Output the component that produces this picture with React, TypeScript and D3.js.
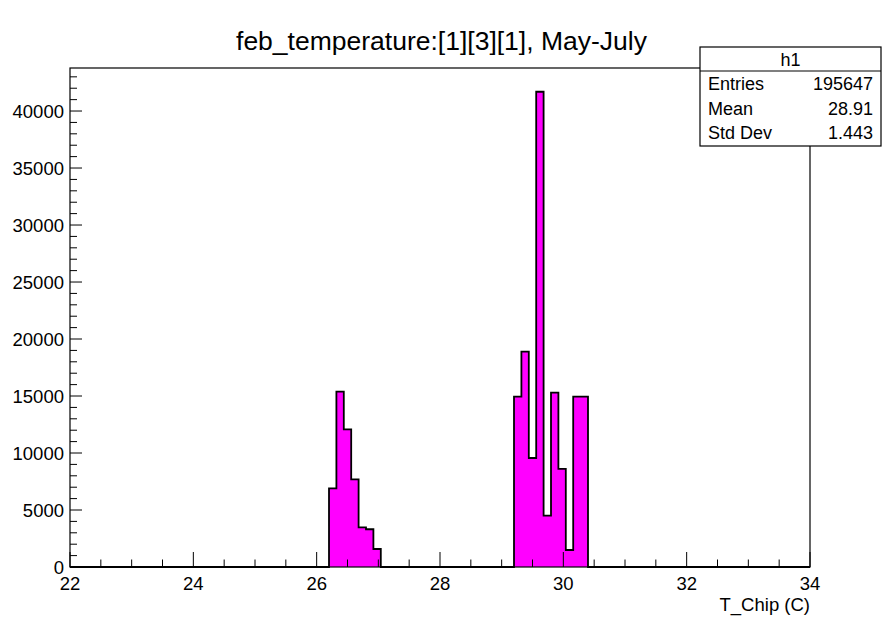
import React from "react";
import * as d3 from "d3";

// Histogram h1: T_Chip temperature, bins of 0.12 C over [22, 34]
const binWidth = 0.12;
const binLow = [
  26.2, 26.32, 26.44, 26.56, 26.68, 26.8, 26.92,
  29.2, 29.32, 29.44, 29.56, 29.68, 29.8, 29.92, 30.04, 30.16, 30.28,
];
const binCount = [
  6900, 15380, 12080, 7690, 3480, 3310, 1580,
  14950, 18890, 9560, 41690, 4510, 15290, 8600, 1490, 14950, 14950,
];
const xDomain = [22, 34];
const xMajorTicks = [22, 24, 26, 28, 30, 32, 34];
const yMajorTicks = [0, 5000, 10000, 15000, 20000, 25000, 30000, 35000, 40000];
const statsLabels = ["Entries", "Mean", "Std Dev"];
const statsValues = ["195647", "28.91", "1.443"];

const W = 883;
const H = 619;
const frame = { left: 70, right: 810, top: 68, bottom: 567 };
const font = "'Liberation Sans', Arial, Helvetica, sans-serif";

export default function App() {
  const x = d3.scaleLinear().domain(xDomain).range([frame.left, frame.right]);
  const yMax = (d3.max(binCount) as number) * 1.05;
  const y = d3.scaleLinear().domain([0, yMax]).range([frame.bottom, frame.top]);

  // Step outline points: each point starts a bin at its height
  const pts: [number, number][] = [[xDomain[0], 0]];
  binLow.forEach((lo, i) => {
    pts.push([lo, binCount[i]]);
    const next = binLow[i + 1];
    const hi = lo + binWidth;
    if (next === undefined || Math.abs(next - hi) > 1e-6) pts.push([hi, 0]);
  });
  pts.push([xDomain[1], 0]);

  const area = d3
    .area<[number, number]>()
    .x((d) => x(d[0]))
    .y0(y(0))
    .y1((d) => y(d[1]))
    .curve(d3.curveStepAfter);
  const line = d3
    .line<[number, number]>()
    .x((d) => x(d[0]))
    .y((d) => y(d[1]))
    .curve(d3.curveStepAfter);

  const xMinor = d3.range(xDomain[0], xDomain[1] + 1e-9, 0.5).filter((v) => !xMajorTicks.includes(v));
  const yMinor = d3.range(0, yMax, 1000).filter((v) => v % 5000 !== 0);

  const box = { x0: 700, x1: 881, y0: 47, y1: 146, sep: 71 };

  return (
    <svg
      width={W}
      height={H}
      style={{ position: "absolute", left: 0, top: 0, display: "block" }}
      fontFamily={font}
    >
      <rect width={W} height={H} fill="#ffffff" />
      <text x={W / 2} y={50} textAnchor="middle" fontSize={26.5} fill="#000">
        feb_temperature:[1][3][1], May-July
      </text>

      <path d={area(pts) ?? ""} fill="#ff00ff" />
      <path d={line(pts) ?? ""} fill="none" stroke="#000" strokeWidth={1.8} />

      {/* frame */}
      <rect
        x={frame.left}
        y={frame.top}
        width={frame.right - frame.left}
        height={frame.bottom - frame.top}
        fill="none"
        stroke="#000"
        strokeWidth={1.2}
      />

      {/* x axis ticks */}
      {xMajorTicks.map((v) => (
        <g key={"xm" + v}>
          <line x1={x(v)} x2={x(v)} y1={frame.bottom} y2={frame.bottom - 15} stroke="#000" />
          <text x={x(v)} y={590} textAnchor="middle" fontSize={18.5}>
            {v}
          </text>
        </g>
      ))}
      {xMinor.map((v) => (
        <line key={"xn" + v} x1={x(v)} x2={x(v)} y1={frame.bottom} y2={frame.bottom - 7.5} stroke="#000" />
      ))}
      <text x={frame.right} y={611} textAnchor="end" fontSize={18.5}>
        T_Chip (C)
      </text>

      {/* y axis ticks */}
      {yMajorTicks.map((v) => (
        <g key={"ym" + v}>
          <line x1={frame.left} x2={frame.left + 12} y1={y(v)} y2={y(v)} stroke="#000" />
          <text x={64} y={y(v)} dy="0.36em" textAnchor="end" fontSize={18.5}>
            {v}
          </text>
        </g>
      ))}
      {yMinor.map((v) => (
        <line key={"yn" + v} x1={frame.left} x2={frame.left + 7} y1={y(v)} y2={y(v)} stroke="#000" />
      ))}

      {/* statistics box */}
      <rect x={box.x0} y={box.y0} width={box.x1 - box.x0} height={box.y1 - box.y0} fill="#fff" stroke="#000" strokeWidth={1.2} />
      <line x1={box.x0} x2={box.x1} y1={box.sep} y2={box.sep} stroke="#000" strokeWidth={1.2} />
      <text x={(box.x0 + box.x1) / 2} y={66} textAnchor="middle" fontSize={18}>
        h1
      </text>
      {statsLabels.map((s, i) => (
        <g key={s}>
          <text x={708} y={90 + i * 24.5} fontSize={18}>
            {s}
          </text>
          <text x={873} y={90 + i * 24.5} textAnchor="end" fontSize={18}>
            {statsValues[i]}
          </text>
        </g>
      ))}
    </svg>
  );
}
